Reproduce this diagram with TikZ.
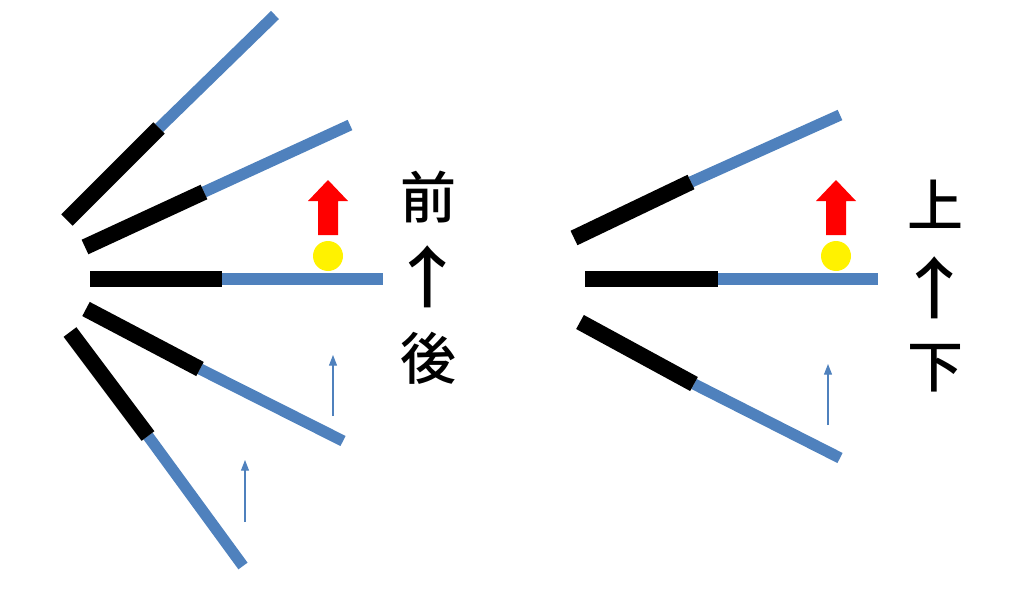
\documentclass[tikz,border=0pt]{standalone}
\usepackage{fontspec}
\newfontfamily\cjk{Noto Sans CJK JP Medium}
\usetikzlibrary{arrows.meta}
\definecolor{stickblue}{HTML}{4F81BD}
\tikzset{
  blk/.style={line width=12pt, black, line cap=butt},
  blu/.style={line width=8.5pt, stickblue, line cap=butt},
  thinarr/.style={line width=0.8pt, stickblue, -{Triangle[length=8pt,width=6pt]}},
  redarr/.style={fill=red, draw=none},
  ball/.style={fill=yellow, draw=none},
  lbl/.style={font=\cjk\fontsize{42}{42}\selectfont, inner sep=0pt},
  arr/.style={font=\cjk\fontsize{42}{42}\selectfont, inner sep=0pt, xscale=1.4, yscale=1.2}
}
\begin{document}
\begin{tikzpicture}[x=0.75pt,y=-0.75pt]
\useasboundingbox (0,0) rectangle (1024,592);
% left fan
\coordinate (a1) at (67,220); \coordinate (b1) at (159,128); \coordinate (c1) at (275,15);
\coordinate (a2) at (85,247); \coordinate (b2) at (204,192); \coordinate (c2) at (350,125);
\coordinate (a3) at (90,279); \coordinate (b3) at (222,279); \coordinate (c3) at (383,279);
\coordinate (a4) at (86,309); \coordinate (b4) at (200,369); \coordinate (c4) at (343,441);
\coordinate (a5) at (70,332); \coordinate (b5) at (148,436); \coordinate (c5) at (243,566);
\foreach \i in {1,...,5}{
  \draw[blu] (b\i) -- (c\i);
  \draw[blk] (a\i) -- (b\i);
}
% right fan
\coordinate (d1) at (574,238); \coordinate (e1) at (691,182); \coordinate (f1) at (840,115);
\coordinate (d2) at (585,279); \coordinate (e2) at (718,279); \coordinate (f2) at (878,279);
\coordinate (d3) at (580,322); \coordinate (e3) at (694,384); \coordinate (f3) at (840,458);
\foreach \i in {1,2,3}{
  \draw[blu] (e\i) -- (f\i);
  \draw[blk] (d\i) -- (e\i);
}
% balls and red arrows
\fill[ball] (328,256) circle[radius=15];
\fill[redarr] (318,235) -- (318,201) -- (308,201) -- (328,180) -- (348,201) -- (338,201) -- (338,235) -- cycle;
\fill[ball] (836,256) circle[radius=15];
\fill[redarr] (826,235) -- (826,201) -- (816,201) -- (836,180) -- (856,201) -- (846,201) -- (846,235) -- cycle;
% thin arrows
\coordinate (t1s) at (333,416); \coordinate (t1e) at (333,355);
\coordinate (t2s) at (245,522); \coordinate (t2e) at (245,460);
\coordinate (t3s) at (828,425); \coordinate (t3e) at (828,364);
\draw[thinarr] (t1s) -- (t1e);
\draw[thinarr] (t2s) -- (t2e);
\draw[thinarr] (t3s) -- (t3e);
% labels
\node[lbl] (f) at (428,197) {前};
\node[arr] (u1) at (428,277) {↑};
\node[lbl] (b) at (428,358) {後};
\node[lbl] (s) at (935,204) {上};
\node[arr] (u2) at (935,288) {↑};
\node[lbl] (x) at (935,368) {下};
\end{tikzpicture}
\end{document}
